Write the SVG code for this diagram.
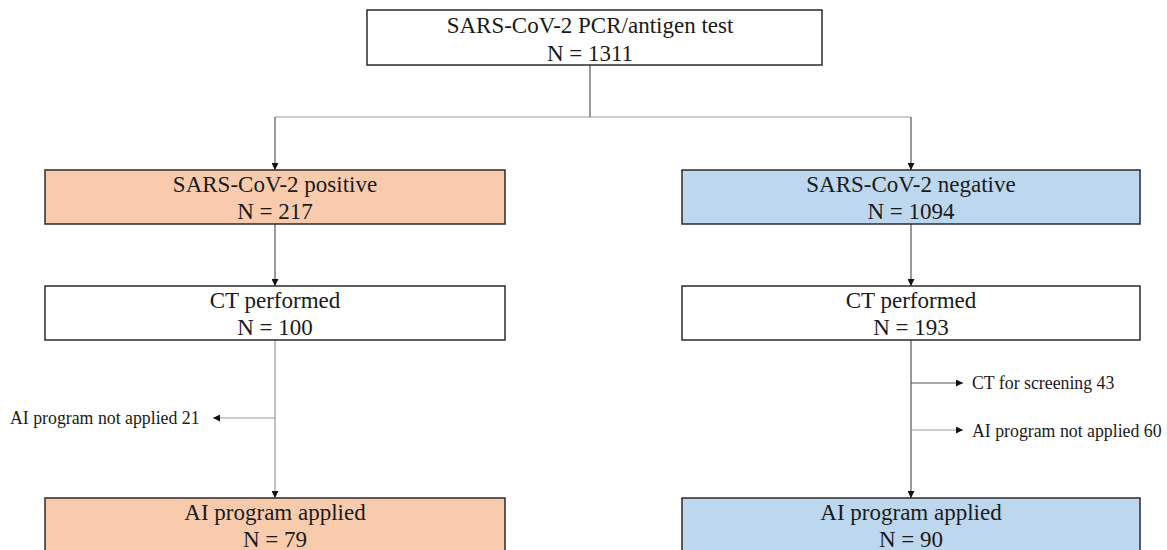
<svg xmlns="http://www.w3.org/2000/svg" width="1167" height="550" viewBox="0 0 1167 550">
<defs>
<marker id="arr" viewBox="0 0 10 10" refX="10" refY="5" markerWidth="7" markerHeight="7" markerUnits="userSpaceOnUse" orient="auto">
<path d="M0,0 L10,5 L0,10 z" fill="#111"/>
</marker>
<style>
.box{stroke:#2a2a2a;stroke-width:1.5}
.white{fill:#ffffff}
.pos{fill:#F8CBAD}
.neg{fill:#BDD7EE}
.t{font-family:"Liberation Serif","Times New Roman",serif;font-size:23px;fill:#1a1a1a;text-anchor:middle}
.s{font-family:"Liberation Serif","Times New Roman",serif;font-size:17.8px;fill:#1a1a1a}
.c{fill:none;stroke:#555;stroke-width:1.2}
.c2{fill:none;stroke:#999;stroke-width:1.2}
</style>
</defs>
<rect width="1167" height="550" fill="#ffffff"/>
<g id="connectors">
<path class="c" d="M590,65 V117"/>
<path class="c2" d="M275,117 H911"/>
<path class="c" d="M275,117 V170" marker-end="url(#arr)"/>
<path class="c" d="M911,117 V170" marker-end="url(#arr)"/>
<path class="c" d="M275,224 V286" marker-end="url(#arr)"/>
<path class="c" d="M911,224 V286" marker-end="url(#arr)"/>
<path class="c2" d="M275,340 V498" marker-end="url(#arr)"/>
<path class="c" d="M911,340 V498" marker-end="url(#arr)"/>
<path class="c2" d="M275,418 H213" marker-end="url(#arr)"/>
<path class="c" d="M911,383 H963" marker-end="url(#arr)"/>
<path class="c2" d="M911,430 H963" marker-end="url(#arr)"/>
</g>
<g id="node-test">
<rect class="box white" x="367" y="10" width="455" height="55"/>
<text class="t" x="590" y="33">SARS-CoV-2 PCR/antigen test</text>
<text class="t" x="590" y="61">N = 1311</text>
</g>
<g id="node-positive">
<rect class="box pos" x="45" y="170" width="460" height="54"/>
<text class="t" x="275" y="192">SARS-CoV-2 positive</text>
<text class="t" x="275" y="219">N = 217</text>
</g>
<g id="node-negative">
<rect class="box neg" x="682" y="170" width="458" height="54"/>
<text class="t" x="911" y="192">SARS-CoV-2 negative</text>
<text class="t" x="911" y="219">N = 1094</text>
</g>
<g id="node-ct-pos">
<rect class="box white" x="45" y="286" width="460" height="54"/>
<text class="t" x="275" y="308">CT performed</text>
<text class="t" x="275" y="335">N = 100</text>
</g>
<g id="node-ct-neg">
<rect class="box white" x="682" y="286" width="458" height="54"/>
<text class="t" x="911" y="308">CT performed</text>
<text class="t" x="911" y="335">N = 193</text>
</g>
<g id="node-ai-pos">
<rect class="box pos" x="45" y="498" width="460" height="60"/>
<text class="t" x="275" y="520">AI program applied</text>
<text class="t" x="275" y="547">N = 79</text>
</g>
<g id="node-ai-neg">
<rect class="box neg" x="682" y="498" width="458" height="60"/>
<text class="t" x="911" y="520">AI program applied</text>
<text class="t" x="911" y="547">N = 90</text>
</g>
<g id="labels">
<text class="s" x="10" y="424">AI program not applied 21</text>
<text class="s" x="972" y="389">CT for screening 43</text>
<text class="s" x="972" y="437">AI program not applied 60</text>
</g>
</svg>
